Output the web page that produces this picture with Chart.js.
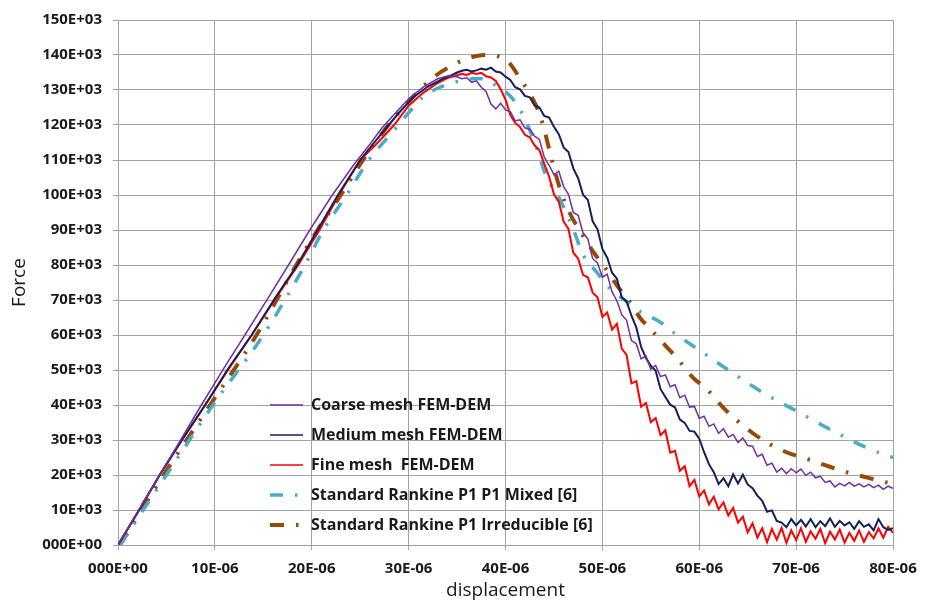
<!DOCTYPE html>
<html>
<head>
<meta charset="utf-8">
<script src="https://cdn.jsdelivr.net/npm/chart.js@4/dist/chart.umd.min.js"></script>
<style>
html,body{margin:0;padding:0;background:#fff;}
#wrap{width:935px;height:603px;position:relative;}
</style>
</head>
<body>
<div id="wrap"><canvas id="c" width="935" height="603"></canvas></div>
<script>
// displacement in E-06, force in E+03
const seriesNames = ["Coarse mesh FEM-DEM", "Medium mesh FEM-DEM", "Fine mesh  FEM-DEM", "Standard Rankine P1 P1 Mixed [6]", "Standard Rankine P1 Irreducible [6]"];
const xTickLabels = ["000E+00","10E-06","20E-06","30E-06","40E-06","50E-06","60E-06","70E-06","80E-06"];
const yTickLabels = ["000E+00","10E+03","20E+03","30E+03","40E+03","50E+03","60E+03","70E+03","80E+03","90E+03","100E+03","110E+03","120E+03","130E+03","140E+03","150E+03"];

const coarseX = [0,2,4,6,8.5,11,13.1,15.5,17.6,19.8,22,24.3,26,27.2,28.5,30,31.5,33,34,
35,35.5,36,36.5,37,37.5,38,38.5,39,39.5,40,40.5,41,41.5,42,42.5,43,43.5,44,44.5,45,45.5,46,46.5,47,47.5,48,48.5,49,49.5,50,50.5,51,51.5,52,52.5,53,53.5,54,54.5,55,55.5,56,56.5,57,57.5,58,58.5,59,59.5,60,60.5,61,61.5,62,62.5,63,63.5,64,64.5,65,65.5,66,66.5,67,67.5,68,68.5,69,69.5,70,70.5,71,71.5,72,72.5,73,73.5,74,74.5,75,75.5,76,76.5,77,77.5,78,78.5,79,79.5,80];
const coarseY = [0,9.3,18.6,27.8,39.5,50.8,60,70.6,80,90,99.5,108.5,114.5,119,123,127.5,130.8,133.2,134,
133.8,133.2,133.5,132.2,132.6,130.8,129.5,126,124.6,126.2,124.3,123.8,121.2,121.5,119.2,118.8,116.8,115.9,110.8,108.5,105.8,106.8,102.4,100.2,95,94.2,89.2,87.5,81.8,80.6,76.5,77.4,72.3,69.8,65.8,64.2,58.4,57.5,53.2,54,50.2,51.3,48.1,48.6,45.2,45.8,42.1,42.8,39.4,39.6,36.2,36.8,33.9,34.6,31.9,33.2,30.8,31.6,29.3,30.6,28.4,28.2,25.3,25.9,22.8,23.4,20.8,21.9,20.4,21.8,20.6,21.7,19.9,20.8,19.2,19.6,17.9,18.3,16.6,17.6,16.9,17.9,16.8,17.5,16.6,17.3,16.4,17.1,15.9,16.8,16.2];

const mediumX = [0,2,4.3,6.5,9,11.4,13.8,16.2,18.5,20.6,22.7,25,26.3,27.5,29,30.5,32,33.5,34.5,
35,35.5,36,36.5,37,37.5,38,38.5,39,39.5,40,40.5,41,41.5,42,42.5,43,43.5,44,44.5,45,45.5,46,46.5,47,47.5,48,48.5,49,49.5,50,50.5,51,51.5,52,52.5,53,53.5,54,54.5,55,55.5,56,56.5,57,57.5,58,58.5,59,59.5,60,60.5,61,61.5,62,62.5,63,63.5,64,64.5,65,65.5,66,66.5,67,67.5,68,68.5,69,69.5,70,70.5,71,71.5,72,72.5,73,73.5,74,74.5,75,75.5,76,76.5,77,77.5,78,78.5,79,79.5,80];
const mediumY = [0,9.2,20,29.5,40,50.5,60,70.5,80,90,100,110,114.5,118.5,123.5,128,131,133.2,134.3,
135,135.5,135.8,135.3,135.6,136.1,135.8,136.4,135.3,135,133.8,132.9,130.8,130.2,128.3,127.9,125.6,125,122.6,122.1,119.5,117.4,113.6,112.3,107.6,104.8,100.1,98.6,92.5,90.2,84.6,82.1,77.8,76.1,70.8,69.6,65.5,62.2,56.6,53.4,51.2,49.8,44.6,42.3,40.1,39.3,35.8,34.9,32.6,32.4,30.4,26.5,23.1,20.8,17.4,19.1,16.8,20.2,17.6,20.1,17.3,16.2,14.1,12.6,9.5,9.9,6.9,6.4,5.1,7.4,5.6,7.2,5.3,7.4,5.1,6.8,5.4,7.6,5.2,6.9,5.6,6.5,4.6,6.8,5.2,5.9,4.2,7.4,5.1,4.3,4.8];

const fineX = [0,2,4.3,6.5,9,11.4,13.8,16.2,18.6,20.8,22.8,25,27,28.5,30,31.5,33,34,
35,35.5,36,36.5,37,37.5,38,38.5,39,39.5,40,40.5,41,41.5,42,42.5,43,43.5,44,44.5,45,45.5,46,46.5,47,47.5,48,48.5,49,49.5,50,50.5,51,51.5,52,52.5,53,53.5,54,54.5,55,55.5,56,56.5,57,57.5,58,58.5,59,59.5,60,60.5,61,61.5,62,62.5,63,63.5,64,64.5,65,65.5,66,66.5,67,67.5,68,68.5,69,69.5,70,70.5,71,71.5,72,72.5,73,73.5,74,74.5,75,75.5,76,76.5,77,77.5,78,78.5,79,79.5,80];
const fineY = [0,9.1,20,29.8,40,50.2,60,70.2,80,90,100,110,115.5,120,125.5,129.2,132,133.4,
134.2,134.6,134.3,134.9,134.6,134.9,133.9,133.6,132.6,130.2,127.3,122.8,120.6,119.4,117.2,116.5,114.2,112.8,108.9,105.3,100.2,98.1,92.4,90.3,83.5,81.8,77.2,76.5,72.1,70.8,65.2,66.4,61.5,63.2,56.1,54.3,46.2,46.8,39.5,40.6,35.1,36.3,31.4,32.8,26.4,26.9,21.2,22.5,16.8,18.6,13.9,15.6,11.6,13.8,10.2,12.2,8.4,10.6,6.4,8.1,3.6,6.2,2.1,4.8,0.8,4.6,1.5,4.9,0.6,4.2,1.4,4.8,0.9,3.9,1.8,4.6,0.5,3.8,1.6,4.4,0.7,3.5,1.2,4.1,0.9,3.7,1.9,4.8,2.1,5.2,3.5];

const mixedX = [0.2,5,9.8,15,19.3,21.2,23.6,25.9,28.5,30,31.5,33,34.5,35.6,37,38,38.7,39.8,41.1,42.2,43.2,44.2,45.6,47,48,49.4,50.8,52.1,53.2,54,55.9,57.7,60.1,63.2,66.3,70,73.8,77.6,80];
const mixedY = [0,20,40,60,80,90,100,110,118.5,123.5,128,130.5,132,132.8,133.3,133,131.8,130,126.2,120.5,113.5,105.4,98.8,90.2,83,78,73.2,70.4,68,66.5,63.8,60,55.5,49.6,44,38.3,32.6,27.4,25];

const irredX = [0.2,4.7,9.5,14.3,18.4,20.6,23,25.3,27.5,28.8,30.8,32.5,33.9,35,36.3,37.5,38.4,39.1,40.3,41.5,42.7,43.5,44.1,44.6,45.6,46.6,48,49.1,50.1,51.5,52.8,54,54.9,56.6,57.7,59.4,60.8,62.5,63.8,65.5,67.3,69,71.1,73,75.2,77,79.3,80];
const irredY = [0,20,40,60,80,90,100,110,118.5,123,129,133.5,136.1,137.8,139.2,139.9,140,139.8,138,133.3,128,123.3,117.7,112,102,95,88.4,83.6,79.9,74.2,69.5,64.5,61.9,56.7,53.4,47.7,44.5,39.2,35.8,32,28.8,26.5,24.6,22.8,20.8,19.5,17.9,17.5];

function pts(xs, ys){ return xs.map((x,i)=>({x:x, y:ys[i]})); }

const FONT = "'Open Sans', Lato, sans-serif";

const legendPlacer = {
  id: 'legendPlacer',
  afterLayout(chart){
    const lg = chart.legend;
    if (!lg) return;
    const w = lg.width;
    lg.left = 256; lg.right = 256 + w;
    lg.top = 383; lg.bottom = 603; lg.height = 220;
  }
};

Chart.defaults.font.family = FONT;
Chart.defaults.color = '#1a1a1a';

new Chart(document.getElementById('c'), {
  type: 'line',
  data: {
    datasets: [
      {label: seriesNames[0], data: pts(coarseX, coarseY), borderColor:'#7030A0', backgroundColor:'#7030A0', borderWidth:1.5, pointRadius:0, tension:0},
      {label: seriesNames[1], data: pts(mediumX, mediumY), borderColor:'#13205A', backgroundColor:'#13205A', borderWidth:2, pointRadius:0, tension:0},
      {label: seriesNames[2], data: pts(fineX, fineY), borderColor:'#FF0000', backgroundColor:'#FF0000', borderWidth:2, pointRadius:0, tension:0},
      {label: seriesNames[3], data: pts(mixedX, mixedY), borderColor:'#4BACC6', backgroundColor:'#4BACC6', borderWidth:3.5, borderDash:[13,12,2.5,12], pointRadius:0, cubicInterpolationMode:'monotone'},
      {label: seriesNames[4], data: pts(irredX, irredY), borderColor:'#984807', backgroundColor:'#984807', borderWidth:4, borderDash:[14,12,2.5,12], pointRadius:0, cubicInterpolationMode:'monotone'}
    ]
  },
  options: {
    responsive:false, animation:false, devicePixelRatio:1,
    layout:{padding:{top:16,right:42,left:0,bottom:0}},
    plugins:{
      tooltip:{enabled:false},
      legend:{
        position:'chartArea', align:'start',
        labels:{usePointStyle:true, pointStyle:'line', pointStyleWidth:33, padding:14, color:'#1a1a1a',
          font:{size:16, weight:'bold', family:FONT},
          generateLabels(chart){
            const items = Chart.defaults.plugins.legend.labels.generateLabels(chart);
            items.forEach((it, i) => {
              const ds = chart.data.datasets[i];
              it.lineDash = ds.borderDash || [];
              it.lineWidth = ds.borderDash ? ds.borderWidth : 1.5;
              it.strokeStyle = ds.borderColor;
              it.fillStyle = ds.borderColor;
              it.pointStyle = 'line';
              it.lineCap = 'butt';
            });
            return items;
          }}
      }
    },
    scales:{
      x:{type:'linear', min:0, max:80,
        afterFit(s){ s.height = 58; },
        ticks:{stepSize:10, padding:10, font:{size:15, weight:'bold'}, color:'#1a1a1a', maxRotation:0,
          callback:(v)=> xTickLabels[Math.round(v/10)]},
        grid:{color:'#a3a3a3', lineWidth:1, tickLength:5},
        border:{color:'#a3a3a3'},
        title:{display:true, text:'displacement', font:{size:19}, color:'#1a1a1a', padding:{top:0,bottom:1}}
      },
      y:{type:'linear', min:0, max:150,
        afterFit(s){ s.width = 118; },
        ticks:{stepSize:10, padding:11, font:{size:15, weight:'bold'}, color:'#1a1a1a',
          callback:(v)=> yTickLabels[Math.round(v/10)]},
        grid:{color:'#a3a3a3', lineWidth:1, tickLength:5},
        border:{color:'#a3a3a3'},
        title:{display:true, text:'Force', font:{size:19}, color:'#1a1a1a', padding:{top:8,bottom:0}}
      }
    }
  },
  plugins:[legendPlacer]
});
</script>
</body>
</html>
